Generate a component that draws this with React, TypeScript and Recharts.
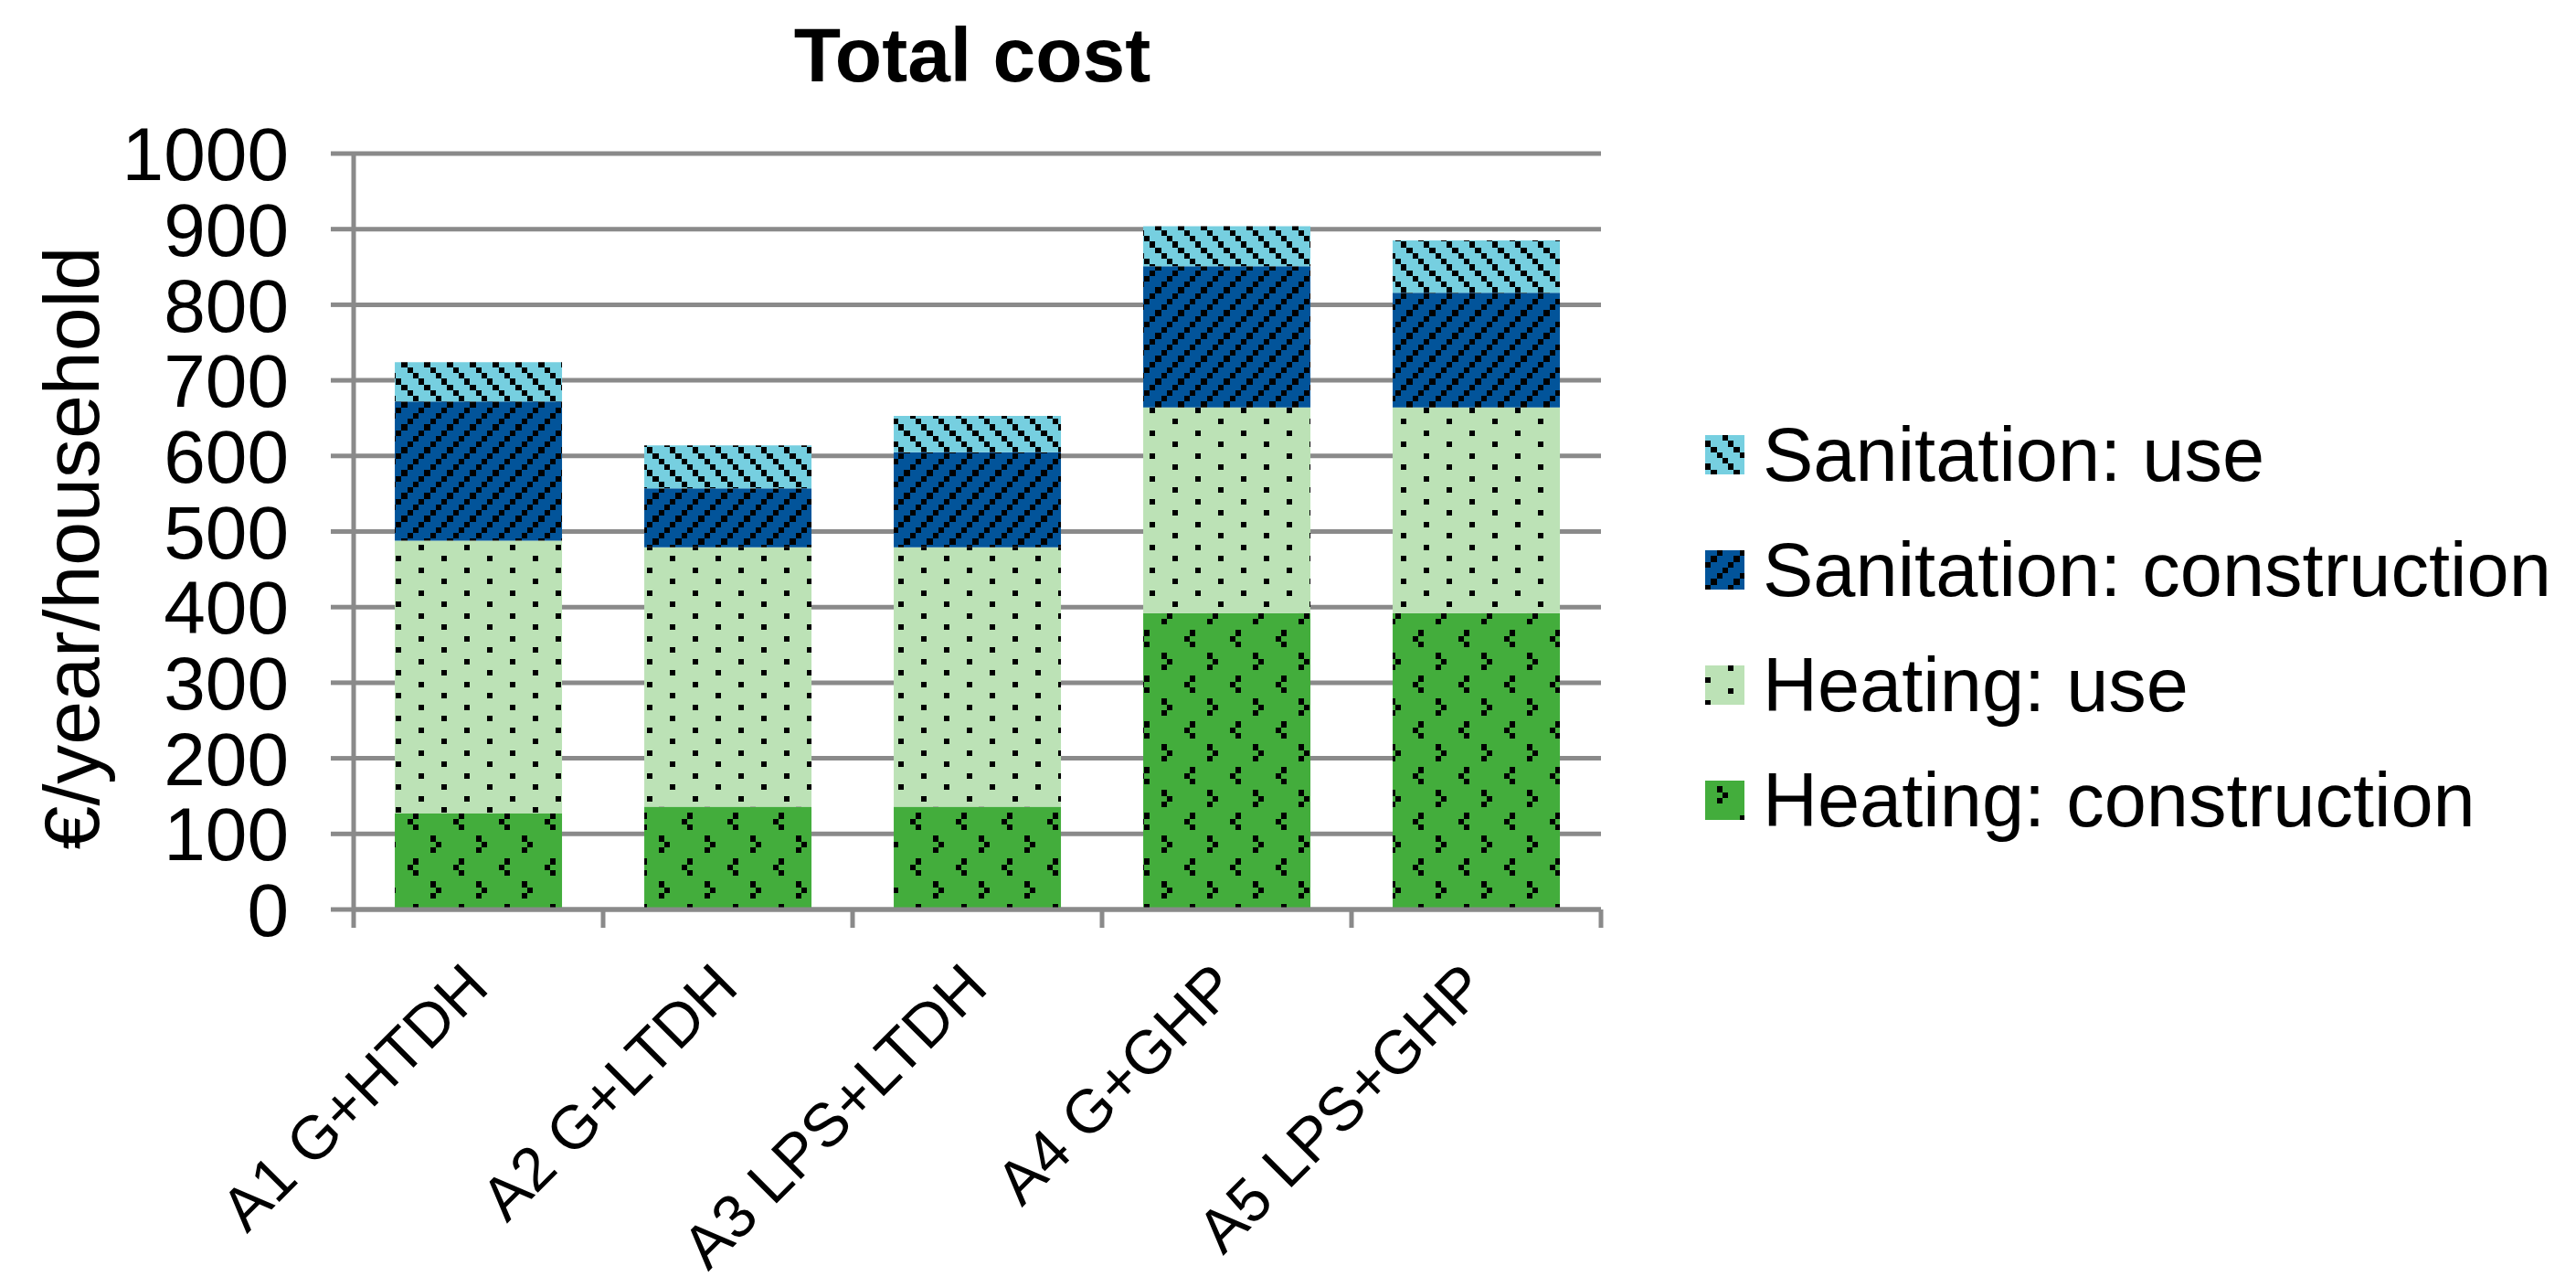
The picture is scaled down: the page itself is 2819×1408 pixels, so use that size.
import React from 'react';
import { BarChart, Bar, XAxis, YAxis, CartesianGrid, Legend } from 'recharts';

// values (€/year/household)
const categories = ['A1 G+HTDH', 'A2 G+LTDH', 'A3 LPS+LTDH', 'A4 G+GHP', 'A5 LPS+GHP'];
const heatingConstruction = [127, 136, 136, 392, 392];
const heatingUse = [361, 343, 343, 272, 272];
const sanitationConstruction = [184, 78, 126, 187, 152];
const sanitationUse = [52, 57, 48, 53, 69];
const yTicks = [0, 100, 200, 300, 400, 500, 600, 700, 800, 900, 1000];

const data = categories.map((name, i) => ({
  name,
  heatCon: heatingConstruction[i],
  heatUse: heatingUse[i],
  sanCon: sanitationConstruction[i],
  sanUse: sanitationUse[i],
}));

const FONT = '"Liberation Sans", Arial, sans-serif';
const GRID = '#8a8a8a';
const PX = 6.25; // size of one pattern "pixel"

// Excel-like fill patterns: background + black pixels [col, row]
const PATTERNS = [
  { id: 'patSanUse', bg: '#76cfe0', cols: 4, rows: 4, dots: [[3, 0], [0, 1], [1, 2], [2, 3]] },
  { id: 'patSanCon', bg: '#02549a', cols: 4, rows: 4, dots: [[2, 0], [1, 1], [0, 2], [3, 3]] },
  { id: 'patHeatUse', bg: '#bce2b6', cols: 8, rows: 4, dots: [[4, 0], [0, 2]] },
  { id: 'patHeatCon', bg: '#43ad3c', cols: 8, rows: 8, dots: [[2, 1], [3, 2], [2, 3], [7, 5], [6, 6], [7, 7]] },
];

const SERIES = [
  { key: 'heatCon', name: 'Heating: construction', pat: 'patHeatCon' },
  { key: 'heatUse', name: 'Heating: use', pat: 'patHeatUse' },
  { key: 'sanCon', name: 'Sanitation: construction', pat: 'patSanCon' },
  { key: 'sanUse', name: 'Sanitation: use', pat: 'patSanUse' },
];

const PatternDefs = () => (
  <svg width={0} height={0} style={{ position: 'absolute', left: 0, top: 0 }}>
    <defs>
      {PATTERNS.map((p) => (
        <pattern key={p.id} id={p.id} patternUnits="userSpaceOnUse" width={p.cols * PX} height={p.rows * PX}>
          <rect width={p.cols * PX} height={p.rows * PX} fill={p.bg} />
          {p.dots.map(([c, r], i) => (
            <rect key={i} x={c * PX} y={r * PX} width={PX} height={PX} fill="#000" shapeRendering="crispEdges" />
          ))}
        </pattern>
      ))}
    </defs>
  </svg>
);

const CategoryTick = (props: any) => {
  const { x, y, payload, index, width, visibleTicksCount } = props;
  const half = width && visibleTicksCount ? width / visibleTicksCount / 2 : 136.5;
  const last = index === categories.length - 1;
  return (
    <g>
      <line x1={x - half} x2={x - half} y1={y} y2={y + 20} stroke={GRID} strokeWidth={5} />
      {last && <line x1={x + half} x2={x + half} y1={y} y2={y + 20} stroke={GRID} strokeWidth={5} />}
      <text
        x={x + 14}
        y={y + 88}
        textAnchor="end"
        transform={`rotate(-45, ${x + 14}, ${y + 88})`}
        fontSize={67}
        fontFamily={FONT}
        fill="#000"
      >
        {payload.value}
      </text>
    </g>
  );
};

const YLabel = (props: any) => {
  const vb = props.viewBox || { x: 0, y: 160, width: 379, height: 827 };
  const cx = vb.x + 100;
  const cy = vb.y + vb.height / 2 + 18;
  return (
    <text x={cx} y={cy} textAnchor="middle" transform={`rotate(-90, ${cx}, ${cy})`} fontSize={86} fontFamily={FONT} fill="#000">
      €/year/household
    </text>
  );
};

const LegendContent = (props: any) => {
  const items = [...(props.payload || [])].reverse();
  return (
    <div style={{ fontFamily: FONT }}>
      {items.map((it: any) => (
        <div key={it.value} style={{ display: 'flex', alignItems: 'center', height: 126 }}>
          <svg width={43} height={43} style={{ marginRight: 20, flex: 'none' }}>
            <rect width={43} height={43} fill={it.color} />
          </svg>
          <span style={{ fontSize: 83, lineHeight: 1, whiteSpace: 'nowrap', color: '#000' }}>{it.value}</span>
        </div>
      ))}
    </div>
  );
};

export default function App() {
  return (
    <div style={{ position: 'relative', width: 2803, height: 1390 }}>
      <style>{`.recharts-surface { overflow: visible; }`}</style>
      <PatternDefs />
      <div
        style={{
          position: 'absolute',
          left: 756,
          width: 600,
          top: 10,
          textAlign: 'center',
          fontFamily: FONT,
          fontWeight: 'bold',
          fontSize: 84,
          lineHeight: 1,
          zIndex: 2,
        }}
      >
        Total cost
      </div>
      <BarChart
        width={2803}
        height={1390}
        data={data}
        margin={{ top: 160, right: 1059, bottom: 0, left: 0 }}
        barCategoryGap="16.5%"
      >
        <CartesianGrid vertical={false} stroke={GRID} strokeWidth={5} />
        <XAxis
          dataKey="name"
          height={403}
          interval={0}
          axisLine={{ stroke: GRID, strokeWidth: 5 }}
          tickLine={false}
          tickSize={0}
          tickMargin={0}
          tick={<CategoryTick />}
        />
        <YAxis
          width={379}
          domain={[0, 1000]}
          ticks={yTicks}
          interval={0}
          axisLine={{ stroke: GRID, strokeWidth: 5 }}
          tickLine={{ stroke: GRID, strokeWidth: 5 }}
          tickSize={25}
          tickMargin={46}
          tick={{ fontSize: 82, fill: '#000', fontFamily: FONT }}
          label={<YLabel />}
        />
        <Legend
          layout="vertical"
          align="center"
          verticalAlign="middle"
          content={<LegendContent />}
          wrapperStyle={{ left: 1858, top: 426, width: 940, height: 504 }}
        />
        {SERIES.map((s) => (
          <Bar
            key={s.key}
            dataKey={s.key}
            name={s.name}
            stackId="total"
            fill={`url(#${s.pat})`}
            isAnimationActive={false}
          />
        ))}
      </BarChart>
    </div>
  );
}
